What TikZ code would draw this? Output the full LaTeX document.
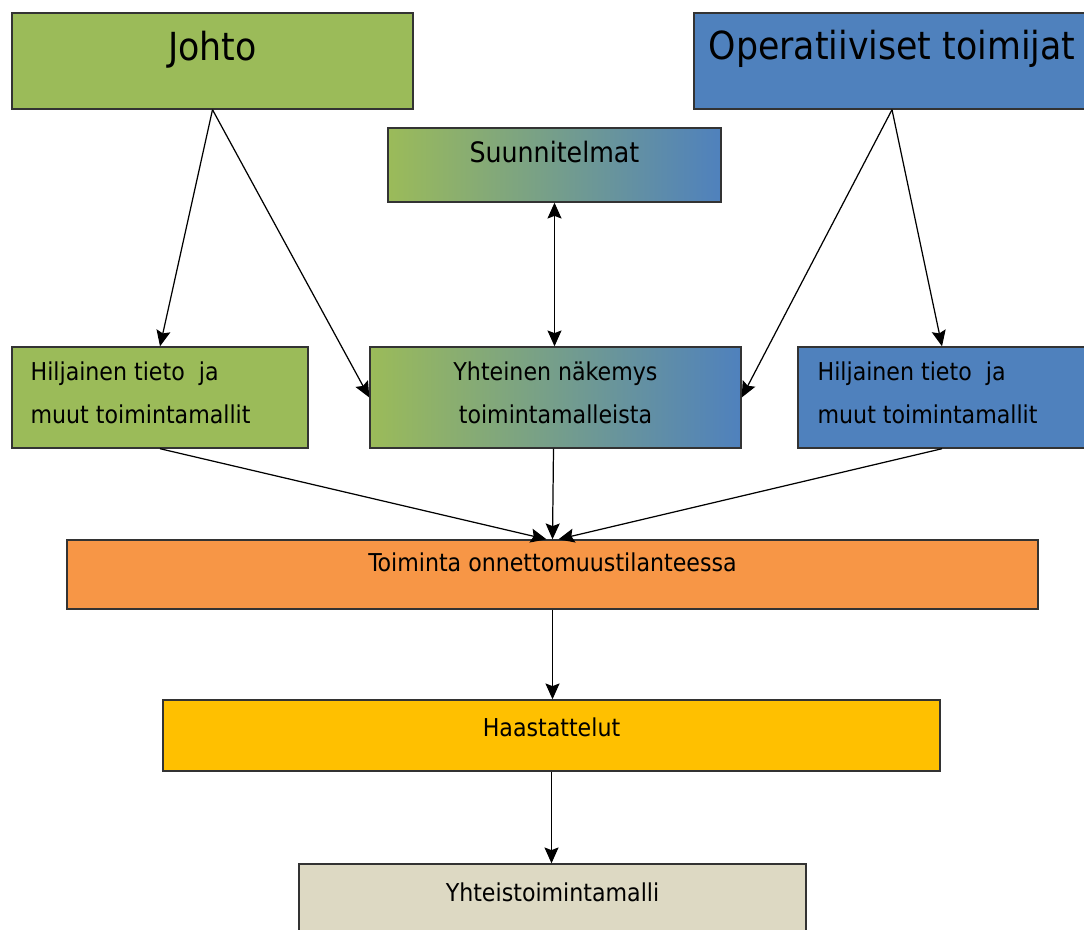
\documentclass[tikz,border=0pt]{standalone}
\usepackage{fontspec}
\setmainfont{DejaVu Sans Condensed}
\usetikzlibrary{arrows.meta,shapes.misc}

\definecolor{ogreen}{HTML}{9BBB59}
\definecolor{oblue}{HTML}{4F81BD}
\definecolor{oorange}{HTML}{F79646}
\definecolor{ogold}{HTML}{FFC000}
\definecolor{otan}{HTML}{DDD9C3}

\tikzset{
  box/.style={draw=black!80,line width=0.8pt,rectangle,inner sep=0pt},
  mix/.style={box,left color=ogreen,right color=oblue},
  big/.style={font=\fontsize{22}{26}\selectfont,inner sep=0pt},
  txt/.style={font=\fontsize{14}{24.4}\selectfont,inner sep=0pt},
  head/.tip={Stealth[length=9pt,width=8pt,inset=1.5pt]},
  arr/.style={-head,line width=0.7pt},
  arrboth/.style={head-head,line width=0.7pt},
}

\begin{document}
\begin{tikzpicture}
\clip (0,0) rectangle (21.68,-18.6);

% top row
\node[box,fill=ogreen,minimum width=8.02cm,minimum height=1.92cm] (johto) at (4.25,-1.22) {};
\node[box,fill=oblue,minimum width=7.92cm,minimum height=1.92cm] (oper) at (17.84,-1.22) {};
\node[mix,minimum width=6.66cm,minimum height=1.48cm] (suun) at (11.09,-3.30) {};

\node[big] (johtoTxt) at ([yshift=-0.74cm]johto.north) {Johto};
\node[big] (operTxt) at ([yshift=-0.74cm]oper.north) {Operatiiviset toimijat};
\node[txt,font=\fontsize{16}{20}\selectfont] (suunTxt) at ([yshift=-0.5cm]suun.north) {Suunnitelmat};

% middle row
\node[box,fill=ogreen,minimum width=5.92cm,minimum height=2.02cm] (hilL) at (3.2,-7.95) {};
\node[mix,minimum width=7.42cm,minimum height=2.02cm] (yht) at (11.11,-7.95) {};
\node[box,fill=oblue,minimum width=5.76cm,minimum height=2.02cm] (hilR) at (18.84,-7.95) {};

\node[txt,align=left,anchor=west] (hilLTxt) at ([xshift=0.38cm,yshift=0.1cm]hilL.west) {Hiljainen tieto \ ja\\muut toimintamallit};
\node[txt,align=center] (yhtTxt) at ([yshift=0.1cm]yht.center) {Yhteinen näkemys\\toimintamalleista};
\node[txt,align=left,anchor=west] (hilRTxt) at ([xshift=0.4cm,yshift=0.1cm]hilR.west) {Hiljainen tieto \ ja\\muut toimintamallit};

% lower boxes
\node[box,fill=oorange,minimum width=19.42cm,minimum height=1.38cm] (toim) at (11.05,-11.49) {};
\node[box,fill=ogold,minimum width=15.54cm,minimum height=1.42cm] (haas) at (11.03,-14.71) {};
\node[box,fill=otan,minimum width=10.14cm,minimum height=1.44cm] (yhts) at (11.05,-18.0) {};

\node[txt] (toimTxt) at ([yshift=-0.46cm]toim.north) {Toiminta onnettomuustilanteessa};
\node[txt] (haasTxt) at ([yshift=-0.56cm]haas.north) {Haastattelut};
\node[txt] (yhtsTxt) at ([yshift=-0.58cm]yhts.north) {Yhteistoimintamalli};

% arrows
\draw[arr] (johto.south) -- (hilL.north);
\draw[arr] (johto.south) -- (yht.west);
\draw[arr] (oper.south) -- (yht.east);
\draw[arr] (oper.south) -- (hilR.north);
\draw[arrboth] (suun.south) -- (suun.south |- yht.north);

\draw[arr] (hilL.south) -- ([xshift=-0.12cm]toim.north);
\draw[arr] ([xshift=-0.04cm]yht.south) -- (toim.north);
\draw[arr] (hilR.south) -- ([xshift=0.12cm]toim.north);

\draw[arr] (toim.south) -- (toim.south |- haas.north);
\draw[arr] (haas.south) -- (haas.south |- yhts.north);

\end{tikzpicture}
\end{document}
